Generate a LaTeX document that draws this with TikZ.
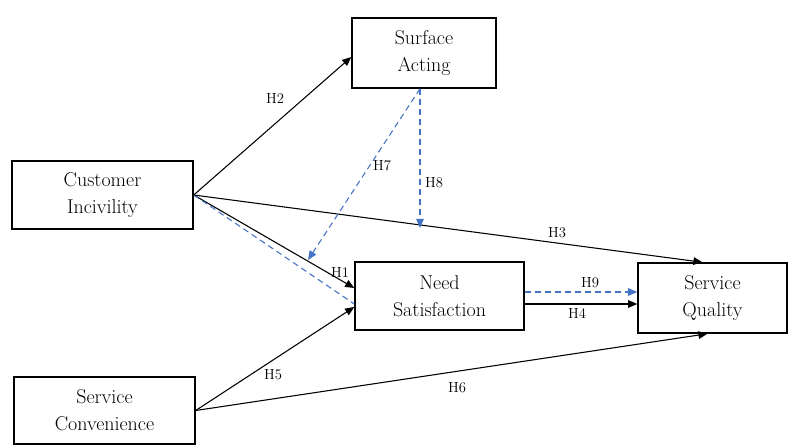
\documentclass[tikz,border=0pt]{standalone}
\usepackage{tikz}
\usetikzlibrary{calc,arrows.meta}
\definecolor{bluex}{HTML}{4472C4}
\tikzset{
  ar/.style={-{Triangle[length=2.4mm,width=2mm]},line width=0.8pt,black},
  dar/.style={-{Triangle[length=2.4mm,width=2mm]},line width=0.8pt,bluex,dash pattern=on 4.5pt off 3pt},
  dln/.style={line width=0.8pt,bluex,dash pattern=on 4.5pt off 3pt},
  box/.style={draw,line width=1.1pt,align=center,inner sep=0pt,font=\fontsize{15}{20.5}\selectfont},
  hyp/.style={font=\fontsize{11}{13}\selectfont,inner sep=1pt}
}
\begin{document}
\begin{tikzpicture}[x=0.75pt,y=-0.75pt]
\useasboundingbox (0,0) rectangle (801,446);
% constructs
\node[box,minimum width=181*0.75pt,minimum height=68*0.75pt] (ci) at (102.5,195) {Customer\\Incivility};
\node[box,minimum width=144*0.75pt,minimum height=70*0.75pt] (sa) at (424,53) {Surface\\Acting};
\node[box,minimum width=169*0.75pt,minimum height=68*0.75pt] (ns) at (439.5,296) {Need\\Satisfaction};
\node[box,minimum width=149*0.75pt,minimum height=70*0.75pt] (sq) at (712.5,298) {Service\\Quality};
\node[box,minimum width=181*0.75pt,minimum height=67*0.75pt] (sc) at (104.5,410.5) {Service\\Convenience};
% moderation targets
\coordinate (m7) at (308,260);
\coordinate (m8) at (420,228);
% paths
\draw[ar] (ci.east) -- ($(sa.west)+(0,4)$);
\draw[ar] (ci.east) -- ($(ns.west)+(0,-8)$);
\draw[dln] (ci.east) -- ($(ns.west)+(0,8)$);
\draw[ar] (ci.east) -- ($(sq.north)+(-10,0)$);
\draw[dar] ($(sa.south)+(-4,0)$) -- (m7);
\draw[dar] ($(sa.south)+(-4,0)$) -- (m8);
\draw[dar] ($(ns.east)+(0,-4)$) -- ($(sq.west)+(0,-6)$);
\draw[ar] ($(ns.east)+(0,8)$) -- ($(sq.west)+(0,6)$);
\draw[ar] (sc.east) -- ($(ns.west)+(0,11)$);
\draw[ar] (sc.east) -- ($(sq.south)+(-5,0)$);
% labels
\node[hyp] (h1) at (340,272) {H1};
\node[hyp] (h2) at (275,98) {H2};
\node[hyp] (h3) at (557,233) {H3};
\node[hyp] (h4) at (577,313) {H4};
\node[hyp] (h5) at (273,375) {H5};
\node[hyp] (h6) at (457,388) {H6};
\node[hyp] (h7) at (382,166) {H7};
\node[hyp] (h8) at (434,183) {H8};
\node[hyp] (h9) at (590,283) {H9};
\end{tikzpicture}
\end{document}
